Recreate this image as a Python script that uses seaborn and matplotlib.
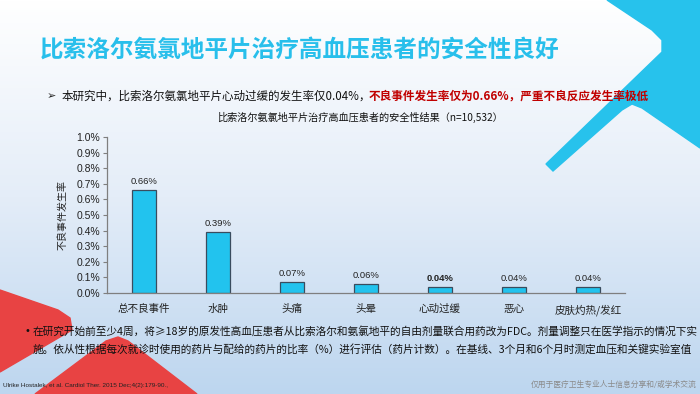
import numpy as np
import matplotlib.pyplot as plt
import seaborn as sns
from matplotlib.patches import Polygon
from matplotlib.colors import LinearSegmentedColormap

# data
categories = ['总不良事件', '水肿', '头痛', '头晕', '心动过缓', '恶心', '皮肤灼热/发红']
rates = [0.66, 0.39, 0.07, 0.06, 0.04, 0.04, 0.04]
value_labels = ['0.66%', '0.39%', '0.07%', '0.06%', '0.04%', '0.04%', '0.04%']
ytick_vals = [0.0, 0.1, 0.2, 0.3, 0.4, 0.5, 0.6, 0.7, 0.8, 0.9, 1.0]
ytick_labels = ['0.0%', '0.1%', '0.2%', '0.3%', '0.4%', '0.5%', '0.6%', '0.7%', '0.8%', '0.9%', '1.0%']

sns.set_style('white')
plt.rcParams['font.family'] = ['Noto Sans CJK SC', 'DejaVu Sans']

W, H = 700, 394
fig = plt.figure(figsize=(7, 3.94), dpi=100)

# background with gradient and decorations
bg = fig.add_axes([0, 0, 1, 1])
bg.set_xlim(0, W)
bg.set_ylim(H, 0)
bg.axis('off')
grad = np.linspace(0, 1, 256).reshape(-1, 1)
cmap = LinearSegmentedColormap.from_list('bg', ['#ffffff', '#e4edf8', '#bdd6ef'])
bg.imshow(grad, aspect='auto', cmap=cmap, extent=[0, W, H, 0], zorder=0)

cyan = '#27c2ec'
red = '#e84343'
bg.add_patch(Polygon([(607, 0), (652, 30), (662, 40), (662, 52), (546, 164), (553, 171),
                      (622, 110), (632, 104), (642, 108), (700, 148), (700, 0)],
                     closed=True, color=cyan, zorder=1))
bg.add_patch(Polygon([(0, 290), (58, 310), (70, 318), (72, 330), (0, 372)],
                     closed=True, color=red, zorder=1))
bg.add_patch(Polygon([(35, 394), (106, 341), (118, 337), (128, 341), (197, 394)],
                     closed=True, color=red, zorder=1))

# main chart
ax = fig.add_axes([107 / W, 1 - 293 / H, 518 / W, 156 / H])
ax.patch.set_alpha(0)
sns.barplot(x=categories, y=rates, ax=ax, color='#22c3ee', edgecolor='#3a4c5e',
            linewidth=0.9, width=0.32, saturation=1)
ax.set_xlim(-0.5, 6.5)
ax.set_ylim(0, 1.0)
ax.set_yticks(ytick_vals)
ax.set_yticklabels(ytick_labels, fontsize=7.5, family=['Liberation Sans', 'Noto Sans CJK SC'],
                   color='#222222')
ax.set_xticks(range(len(categories)))
ax.set_xticklabels(categories, fontsize=7.6, color='#222222')
ax.set_xticks(np.arange(-0.5, 7, 1), minor=True)
ax.tick_params(axis='x', which='major', length=0, pad=8)
ax.tick_params(axis='x', which='minor', length=3, direction='out', color='#7f7f7f', width=0.8)
ax.tick_params(axis='y', length=3, direction='out', color='#7f7f7f', width=0.8, pad=2, left=True)
for s in ['top', 'right']:
    ax.spines[s].set_visible(False)
for s in ['left', 'bottom']:
    ax.spines[s].set_color('#7f7f7f')
    ax.spines[s].set_linewidth(0.9)
ax.set_ylabel('不良事件发生率', fontsize=7.2, color='#222222', labelpad=6)

for i, (v, lab) in enumerate(zip(rates, value_labels)):
    ax.text(i, v + 0.025, lab, ha='center', va='bottom', fontsize=6.8,
            family=['Liberation Sans', 'Noto Sans CJK SC'], color='#222222',
            fontweight='bold' if i == 4 else 'normal')

# texts
fig.text(40 / W, 1 - 50 / H, '比索洛尔氨氯地平片治疗高血压患者的安全性良好', fontsize=17,
         fontweight='bold', color='#28bfeb', va='center', ha='left')
fig.text(47 / W, 1 - 96 / H, '➢', fontsize=8, family=['DejaVu Sans'], color='#222222',
         va='center', ha='left')
black = fig.text(62 / W, 1 - 96 / H, '本研究中，比索洛尔氨氯地平片心动过缓的发生率仅0.04%，',
                 fontsize=8.3, fontweight='medium', color='#111111', va='center', ha='left')
renderer = fig.canvas.get_renderer()
bb = black.get_window_extent(renderer)
fig.text(bb.x1 / W - 0.004, 1 - 96 / H, '不良事件发生率仅为0.66%，严重不良反应发生率极低', fontsize=8.4,
         fontweight='bold', color='#c00000', va='center', ha='left')
fig.text(360 / W, 1 - 117 / H, '比索洛尔氨氯地平片治疗高血压患者的安全性结果（n=10,532）',
         fontsize=7.3, color='#111111', va='center', ha='center')

fig.text(25 / W, 1 - 331 / H, '•', fontsize=7, family=['DejaVu Sans'], color='#111111',
         va='center', ha='left')
fig.text(33 / W, 1 - 331 / H,
         '在研究开始前至少4周，将≥18岁的原发性高血压患者从比索洛尔和氨氯地平的自由剂量联合用药改为FDC。剂量调整只在医学指示的情况下实',
         fontsize=7.7, fontweight='medium', color='#111111', va='center', ha='left')
fig.text(33 / W, 1 - 349 / H,
         '施。依从性根据每次就诊时使用的药片与配给的药片的比率（%）进行评估（药片计数）。在基线、3个月和6个月时测定血压和关键实验室值',
         fontsize=7.7, fontweight='medium', color='#111111', va='center', ha='left')
fig.text(3 / W, 1 - 386 / H, 'Ulrike Hostalek, et al. Cardiol Ther. 2015 Dec;4(2):179-90.,',
         fontsize=4.6, family=['Liberation Sans'], color='#222222', va='center', ha='left')
fig.text(697 / W, 1 - 385 / H, '仅用于医疗卫生专业人士信息分享和/或学术交流', fontsize=5.6,
         color='#8a8a8a', va='center', ha='right')

fig.savefig('out.png', dpi=100)
